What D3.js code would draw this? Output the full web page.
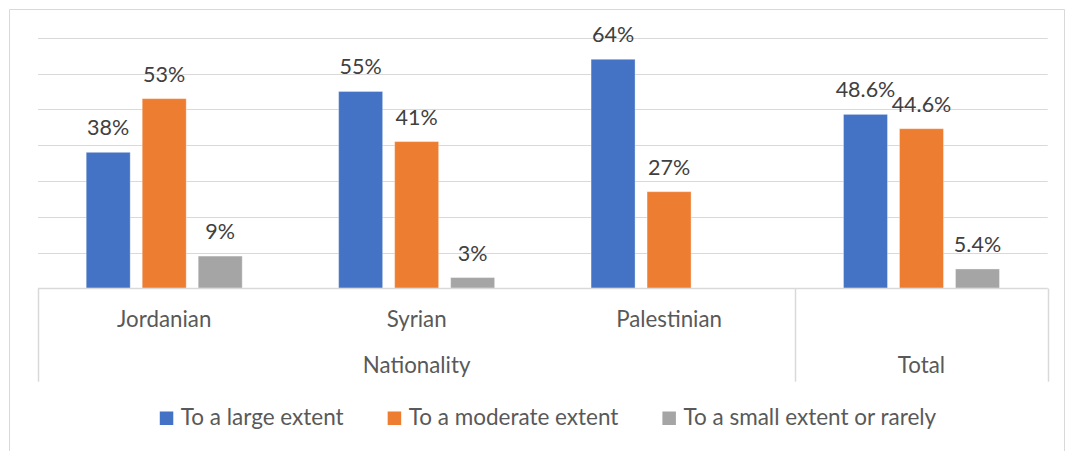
<!DOCTYPE html>
<html>
<head>
<meta charset="utf-8">
<script src="https://cdn.jsdelivr.net/npm/d3@7"></script>
<style>
  html, body { margin: 0; padding: 0; background: #fff; }
  svg { display: block; font-family: Lato, "Open Sans", sans-serif; }
</style>
</head>
<body>
<svg id="chart" width="1065" height="451"></svg>
<script>
// Categories (level 1) and their parent groups (level 2)
const categories = ["Jordanian", "Syrian", "Palestinian", "Total"];
const groups = [
  { name: "Nationality", members: ["Jordanian", "Syrian", "Palestinian"] },
  { name: "Total", members: ["Total"] }
];
const series = ["To a large extent", "To a moderate extent", "To a small extent or rarely"];
// Shares per category (null = no bar)
const largeExtent    = [0.38, 0.55, 0.64, 0.486];
const moderateExtent = [0.53, 0.41, 0.27, 0.446];
const smallExtent    = [0.09, 0.03, null, 0.054];
const labelFormats   = [".0%", ".0%", ".0%", ".1%"];
const yTicks = [0, 0.1, 0.2, 0.3, 0.4, 0.5, 0.6, 0.7];

const colors = ["#4472c4", "#ed7d31", "#a5a5a5"];
const values = [largeExtent, moderateExtent, smallExtent];

const svg = d3.select("#chart");
const W = 1065, H = 451;

// Outer chart frame
svg.append("path")
  .attr("d", `M9.5,${H + 2} V9.5 H${W - 0.5} V${H + 2}`)
  .attr("fill", "none").attr("stroke", "#d9d9d9").attr("stroke-width", 1);

const plot = { left: 38, right: 1047.7, top: 37.8, bottom: 288.3 };

const x0 = d3.scaleBand().domain(categories).range([plot.left, plot.right]).padding(0);
const x1 = d3.scaleBand().domain(series).range([-84, 84])
  .paddingInner(12 / 56).paddingOuter(6 / 56);
const y = d3.scaleLinear().domain([0, 0.7]).range([plot.bottom, plot.top]);

// Horizontal gridlines
svg.append("g").selectAll("line").data(yTicks.slice(1)).join("line")
  .attr("x1", plot.left).attr("x2", plot.right)
  .attr("y1", d => Math.round(y(d)) + 0.5).attr("y2", d => Math.round(y(d)) + 0.5)
  .attr("stroke", "#d9d9d9").attr("stroke-width", 1.2);

// Bars
const rows = categories.map((c, i) => ({
  cat: c, fmt: labelFormats[i],
  vals: series.map((s, k) => ({ s, k, v: values[k][i] }))
}));

const gCat = svg.append("g").selectAll("g").data(rows).join("g")
  .attr("transform", d => `translate(${x0(d.cat) + x0.bandwidth() / 2},0)`);

gCat.selectAll("rect").data(d => d.vals.filter(v => v.v != null)).join("rect")
  .attr("x", d => x1(d.s)).attr("width", x1.bandwidth())
  .attr("y", d => y(d.v)).attr("height", d => y(0) - y(d.v))
  .attr("fill", d => colors[d.k])
  .attr("stroke", "#fff").attr("stroke-opacity", 0.35).attr("stroke-width", 1);

// Value labels
gCat.each(function (row) {
  d3.select(this).selectAll("text").data(row.vals.filter(v => v.v != null)).join("text")
    .attr("x", d => x1(d.s) + x1.bandwidth() / 2)
    .attr("y", d => y(d.v) - 17)
    .attr("text-anchor", "middle")
    .attr("font-size", 21.5).attr("fill", "#404040")
    .text(d => d3.format(row.fmt)(d.v));
});

// Category axis line
const axisY = Math.round(plot.bottom) + 0.5;
svg.append("line").attr("x1", plot.left).attr("x2", plot.right)
  .attr("y1", axisY).attr("y2", axisY)
  .attr("stroke", "#d9d9d9").attr("stroke-width", 1.5);

// Multi-level axis: group separators
const sepBottom = 381.7;
const groupBounds = groups.map(g => {
  const a = x0(g.members[0]);
  const b = x0(g.members[g.members.length - 1]) + x0.bandwidth();
  return { name: g.name, a, b };
});
const seps = [plot.left, ...groupBounds.map(g => g.b)];
svg.append("g").selectAll("line").data(seps).join("line")
  .attr("x1", d => Math.round(d) + 0.5).attr("x2", d => Math.round(d) + 0.5)
  .attr("y1", axisY).attr("y2", sepBottom)
  .attr("stroke", "#d9d9d9").attr("stroke-width", 1.5);

// Level-1 labels (single-member groups are labelled on level 2 only)
const singleton = new Set(groups.filter(g => g.members.length === 1).map(g => g.members[0]));
svg.append("g").selectAll("text").data(categories.filter(c => !singleton.has(c))).join("text")
  .attr("x", d => x0(d) + x0.bandwidth() / 2).attr("y", 327)
  .attr("text-anchor", "middle").attr("font-size", 22.3).attr("fill", "#595959")
  .text(d => d);

// Level-2 labels
svg.append("g").selectAll("text").data(groupBounds).join("text")
  .attr("x", d => (d.a + d.b) / 2).attr("y", 373)
  .attr("text-anchor", "middle").attr("font-size", 22.3).attr("fill", "#595959")
  .text(d => d.name);

// Legend
const legend = svg.append("g");
const items = legend.selectAll("g").data(series).join("g");
items.append("rect").attr("width", 13.5).attr("height", 13.5).attr("y", 411.5)
  .attr("fill", (d, i) => colors[i]);
items.append("text").attr("x", 21).attr("y", 425)
  .attr("font-size", 22.5).attr("fill", "#595959").text(d => d);
const gap = 44;
const widths = [];
items.each(function () { widths.push(21 + d3.select(this).select("text").node().getComputedTextLength()); });
const total = d3.sum(widths) + gap * (widths.length - 1);
let start = 548 - total / 2;
items.attr("transform", (d, i) => {
  const t = `translate(${start},0)`;
  start += widths[i] + gap;
  return t;
});
</script>
</body>
</html>
